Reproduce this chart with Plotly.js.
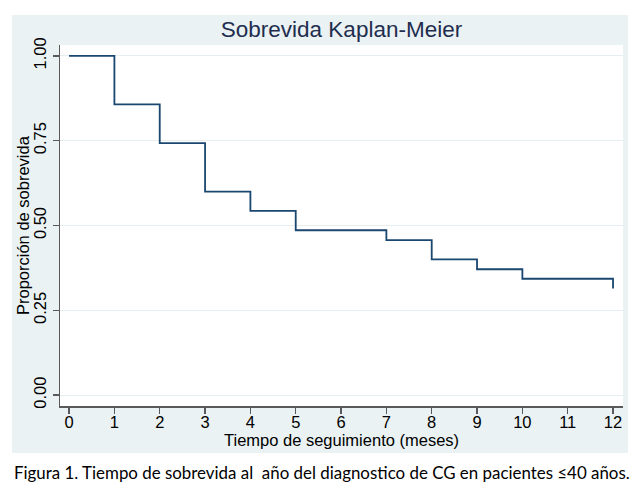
<!DOCTYPE html>
<html>
<head>
<meta charset="utf-8">
<script src="https://cdn.plot.ly/plotly-3.0.1.min.js"></script>
<style>
html,body{margin:0;padding:0;background:#ffffff;}
#chart{width:643px;height:491px;}
</style>
</head>
<body>
<div id="chart"></div>
<script>
// Kaplan-Meier step data
var timeMonths = [0, 1, 2, 3, 4, 5, 7, 8, 9, 10, 12];
var survival   = [1.000, 0.857, 0.743, 0.600, 0.543, 0.486, 0.457, 0.400, 0.371, 0.343, 0.314];
var xTicks = [0,1,2,3,4,5,6,7,8,9,10,11,12];
var yTicks = [0, 0.25, 0.5, 0.75, 1];
var yTickText = ["0.00", "0.25", "0.50", "0.75", "1.00"];
var chartTitle = "Sobrevida Kaplan-Meier";
var xTitle = "Tiempo de seguimiento (meses)";
var yTitle = "Proporción de sobrevida";
var caption = "Figura 1. Tiempo de sobrevida al\u00a0 año del diagnostico de CG en pacientes \u226440 años.";

var trace = {
  x: timeMonths,
  y: survival,
  type: 'scatter',
  mode: 'lines',
  line: {shape: 'hv', color: '#1A476F', width: 1.8},
  hoverinfo: 'skip',
  showlegend: false
};

var axisFont = {family: 'Liberation Sans, Arial, sans-serif', size: 16.5, color: '#000000'};

var layout = {
  width: 643, height: 491,
  margin: {l: 60, r: 20, t: 45, b: 85},
  paper_bgcolor: '#ffffff',
  plot_bgcolor: 'rgba(0,0,0,0)',
  title: {
    text: chartTitle,
    font: {family: 'Liberation Sans, Arial, sans-serif', size: 22.5, color: '#1F2D4F'},
    x: 0.5, xref: 'paper', xanchor: 'center',
    y: 1 - 29/491, yref: 'container', yanchor: 'middle'
  },
  xaxis: {
    range: [-0.2, 12.22],
    tickvals: xTicks,
    ticks: 'outside', ticklen: 6, tickwidth: 1.3, tickcolor: '#5a5a5a',
    showline: true, linecolor: '#5a5a5a', linewidth: 1.5,
    showgrid: false, zeroline: false,
    tickfont: axisFont,
    ticklabelstandoff: -5
  },
  yaxis: {
    range: [-0.032, 1.032],
    tickvals: yTicks, ticktext: yTickText,
    tickangle: -90,
    ticks: 'outside', ticklen: 6, tickwidth: 1.3, tickcolor: '#5a5a5a',
    showline: true, linecolor: '#5a5a5a', linewidth: 1.5,
    showgrid: true, gridcolor: '#E6EEF1', gridwidth: 1,
    zeroline: false,
    tickfont: axisFont,
    ticklabelstandoff: 0
  },
  shapes: [
    {type: 'rect', xref: 'paper', yref: 'paper', layer: 'below',
     x0: -48/563, x1: 568/563, y0: -47/361, y1: 391/361,
     fillcolor: '#EAF2F3', line: {width: 0}},
    {type: 'rect', xref: 'paper', yref: 'paper', layer: 'below',
     x0: 0, x1: 1, y0: 0, y1: 1,
     fillcolor: '#ffffff', line: {width: 0}}
  ],
  annotations: [
    {text: xTitle, xref: 'paper', yref: 'paper', x: 0.5, y: -34/361,
     xanchor: 'center', yanchor: 'middle', showarrow: false, font: axisFont},
    {text: yTitle, xref: 'paper', yref: 'paper', x: -37.5/563, y: 0.5,
     xanchor: 'center', yanchor: 'middle', textangle: -90, showarrow: false, font: axisFont},
    {text: caption, xref: 'paper', yref: 'paper', x: -48/563, y: -66/361,
     xanchor: 'left', yanchor: 'middle', showarrow: false,
     font: {family: 'Lato, Open Sans, sans-serif', size: 16.9, color: '#000000'}}
  ]
};

Plotly.newPlot('chart', [trace], layout, {staticPlot: true, displayModeBar: false});
</script>
</body>
</html>
